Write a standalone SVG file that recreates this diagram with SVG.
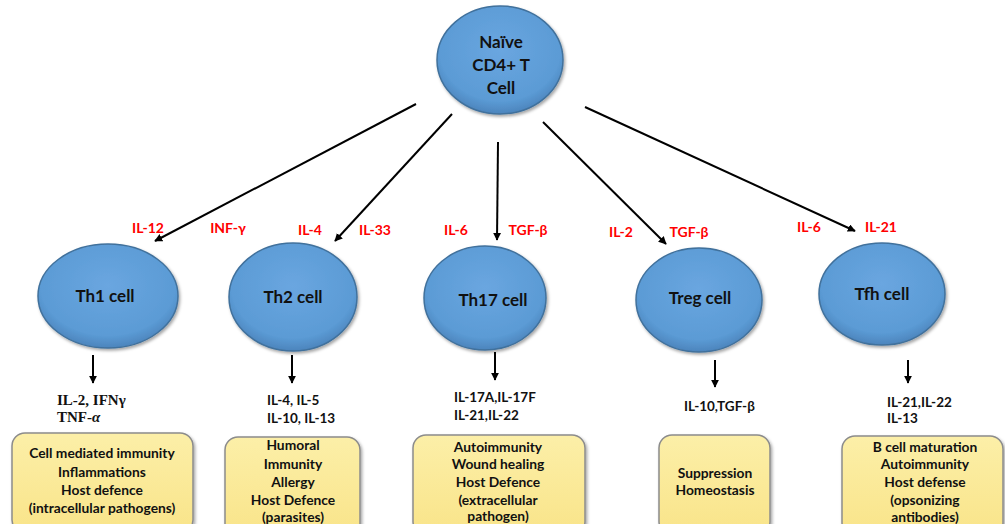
<svg xmlns="http://www.w3.org/2000/svg" width="1005" height="524" viewBox="0 0 1005 524">
<style>
.cell{fill:url(#blue);stroke:#41719C;stroke-width:1.5}
.box{fill:url(#yel);stroke:#8C8C8C;stroke-width:1.5}
.ct{font-family:Lato,"Liberation Sans",sans-serif;font-weight:bold;font-size:17px;fill:#111;text-anchor:middle}
.red{font-family:Lato,"Liberation Sans",sans-serif;font-weight:bold;font-size:14px;fill:#FF0000;text-anchor:middle}
.cy{font-family:Lato,"Liberation Sans",sans-serif;font-weight:bold;font-size:13.5px;fill:#111}
.cys{font-family:"Liberation Serif",serif;font-weight:bold;font-size:15px;fill:#111}
.bt{font-family:Lato,"Liberation Sans",sans-serif;font-weight:bold;font-size:13.8px;fill:#111;text-anchor:middle}
.ln{stroke:#000;stroke-width:2;fill:none;marker-end:url(#ah)}
</style>
<defs>
<radialGradient id="blue" cx="50%" cy="40%" r="60%">
<stop offset="0" stop-color="#6AA6E0"/>
<stop offset="0.8" stop-color="#5B9BD5"/>
<stop offset="1" stop-color="#4C84BC"/>
</radialGradient>
<linearGradient id="yel" x1="0" y1="0" x2="0" y2="1">
<stop offset="0" stop-color="#FCEFA8"/>
<stop offset="1" stop-color="#F9E489"/>
</linearGradient>
<marker id="ah" viewBox="0 0 10 10" refX="9" refY="5" markerWidth="4" markerHeight="4" orient="auto" markerUnits="strokeWidth">
<path d="M0,0 L10,5 L0,10 z" fill="#000"/>
</marker>
<filter id="sh" x="-10%" y="-10%" width="130%" height="130%">
<feDropShadow dx="1.5" dy="2" stdDeviation="1.5" flood-color="#000" flood-opacity="0.35"/>
</filter>
</defs>

<g id="connectors">
<line class="ln" x1="416" y1="104" x2="155" y2="241"/>
<line class="ln" x1="452" y1="114" x2="335" y2="241"/>
<line class="ln" x1="498" y1="142" x2="497" y2="240"/>
<line class="ln" x1="543" y1="122" x2="666" y2="244"/>
<line class="ln" x1="585" y1="107" x2="855" y2="231"/>
<line class="ln" x1="93" y1="355" x2="93" y2="383"/>
<line class="ln" x1="292" y1="355" x2="292" y2="383"/>
<line class="ln" x1="495" y1="352" x2="495" y2="380"/>
<line class="ln" x1="715" y1="360" x2="715" y2="387"/>
<line class="ln" x1="908" y1="360" x2="908" y2="383"/>
</g>

<g id="naive">
<ellipse class="cell" cx="500" cy="60" rx="63" ry="54" filter="url(#sh)"/>
<text class="ct" x="501" y="48">Naïve</text>
<text class="ct" x="501" y="71">CD4+ T</text>
<text class="ct" x="501" y="94">Cell</text>
</g>

<g id="labels">
<text class="red" x="148" y="233">IL-12</text>
<text class="red" x="228" y="233">INF-γ</text>
<text class="red" x="310" y="235">IL-4</text>
<text class="red" x="375" y="235">IL-33</text>
<text class="red" x="456" y="235">IL-6</text>
<text class="red" x="528" y="235">TGF-β</text>
<text class="red" x="621" y="237">IL-2</text>
<text class="red" x="689" y="237">TGF-β</text>
<text class="red" x="809" y="232">IL-6</text>
<text class="red" x="881" y="232">IL-21</text>
</g>

<g id="th1">
<ellipse class="cell" cx="108" cy="296" rx="70" ry="52" filter="url(#sh)"/>
<text class="ct" x="105" y="302">Th1 cell</text>
<text class="cys" x="57" y="405">IL-2, IFNγ</text>
<text class="cys" x="57" y="422">TNF-<tspan font-style="italic">α</tspan></text>
<rect class="box" x="12" y="433" width="181" height="100" rx="13" filter="url(#sh)"/>
<text class="bt" x="102" y="458">Cell mediated immunity</text>
<text class="bt" x="102" y="477">Inflammations</text>
<text class="bt" x="102" y="495">Host defence</text>
<text class="bt" x="102" y="513">(intracellular pathogens)</text>
</g>

<g id="th2">
<ellipse class="cell" cx="293" cy="297" rx="64" ry="54" filter="url(#sh)"/>
<text class="ct" x="293" y="303">Th2 cell</text>
<text class="cy" x="267" y="405">IL-4, IL-5</text>
<text class="cy" x="267" y="423">IL-10, IL-13</text>
<rect class="box" x="225" y="437" width="135" height="100" rx="13" filter="url(#sh)"/>
<text class="bt" x="293" y="450">Humoral</text>
<text class="bt" x="293" y="469">Immunity</text>
<text class="bt" x="293" y="487">Allergy</text>
<text class="bt" x="293" y="505">Host Defence</text>
<text class="bt" x="293" y="522">(parasites)</text>
</g>

<g id="th17">
<ellipse class="cell" cx="485" cy="298" rx="61" ry="52" filter="url(#sh)"/>
<text class="ct" x="493" y="306">Th17 cell</text>
<text class="cy" x="454" y="402">IL-17A,IL-17F</text>
<text class="cy" x="454" y="420">IL-21,IL-22</text>
<rect class="box" x="413" y="435" width="172" height="100" rx="13" filter="url(#sh)"/>
<text class="bt" x="498" y="452">Autoimmunity</text>
<text class="bt" x="498" y="469">Wound healing</text>
<text class="bt" x="498" y="487">Host Defence</text>
<text class="bt" x="498" y="505">(extracellular</text>
<text class="bt" x="498" y="521">pathogen)</text>
</g>

<g id="treg">
<ellipse class="cell" cx="699" cy="300" rx="63" ry="52" filter="url(#sh)"/>
<text class="ct" x="700" y="304">Treg cell</text>
<text class="cy" x="684" y="411">IL-10,TGF-β</text>
<rect class="box" x="659" y="435" width="111" height="100" rx="13" filter="url(#sh)"/>
<text class="bt" x="715" y="478">Suppression</text>
<text class="bt" x="715" y="495">Homeostasis</text>
</g>

<g id="tfh">
<ellipse class="cell" cx="882" cy="294" rx="63" ry="51" filter="url(#sh)"/>
<text class="ct" x="882" y="300">Tfh cell</text>
<text class="cy" x="887" y="407">IL-21,IL-22</text>
<text class="cy" x="887" y="423">IL-13</text>
<rect class="box" x="842" y="436" width="161" height="100" rx="13" filter="url(#sh)"/>
<text class="bt" x="925" y="452">B cell maturation</text>
<text class="bt" x="925" y="469">Autoimmunity</text>
<text class="bt" x="925" y="487">Host defense</text>
<text class="bt" x="925" y="505">(opsonizing</text>
<text class="bt" x="925" y="522">antibodies)</text>
</g>
</svg>
